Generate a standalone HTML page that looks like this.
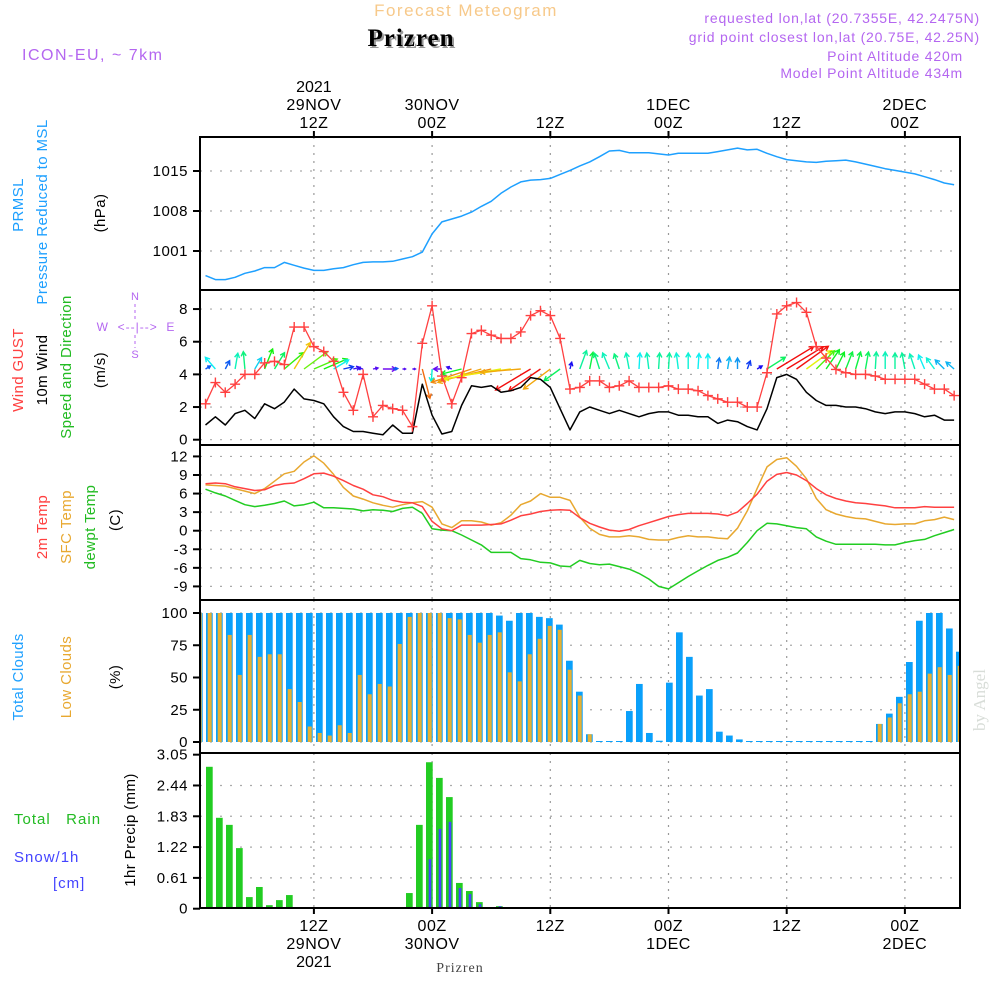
<!DOCTYPE html>
<html><head><meta charset="utf-8"><style>
html,body{margin:0;padding:0;background:#fff;}
svg{display:block;font-family:"Liberation Sans",sans-serif;}
</style></head><body>
<svg id="chart" width="1000" height="1000" viewBox="0 0 1000 1000" xmlns="http://www.w3.org/2000/svg"></svg>
<script>
// ---------- DATA ----------
const timeTickHours = [12, 24, 36, 48, 60, 72];
const timeTickTop1 = ["29NOV","30NOV","","1DEC","","2DEC"];
const timeTickTop2 = ["12Z","00Z","12Z","00Z","12Z","00Z"];
const pressureTicks = [1015, 1008, 1001];
const pressure = [996.7,996.0,996.0,996.4,997.1,997.5,998.1,998.1,999.0,998.5,998.0,997.6,997.6,997.9,998.1,998.6,999.0,999.1,999.1,999.2,999.6,1000.0,1000.8,1004.0,1006.1,1006.6,1007.1,1007.8,1008.8,1009.7,1011.1,1012.2,1013.1,1013.4,1013.5,1013.7,1014.4,1015.1,1015.9,1016.6,1017.5,1018.5,1018.6,1018.2,1018.2,1018.2,1018.0,1017.8,1018.1,1018.1,1018.1,1018.1,1018.4,1018.7,1019.0,1018.7,1018.8,1018.1,1017.5,1017.0,1016.8,1016.6,1016.5,1016.7,1016.8,1016.9,1016.6,1016.2,1015.8,1015.4,1015.1,1014.8,1014.5,1014.0,1013.5,1012.9,1012.6];
const windTicks = [8, 6, 4, 2, 0];
const windGust = [2.2,3.5,2.9,3.4,4.0,4.0,4.7,4.8,4.6,6.9,6.9,5.7,5.4,4.8,2.9,1.8,4.0,1.4,2.1,1.9,1.8,0.8,5.9,8.2,3.9,2.2,3.8,6.5,6.7,6.4,6.2,6.2,6.6,7.6,7.9,7.6,6.2,3.1,3.2,3.6,3.6,3.2,3.3,3.6,3.2,3.2,3.2,3.3,3.1,3.1,3.0,2.7,2.5,2.3,2.3,2.0,2.0,4.1,7.7,8.2,8.4,7.8,5.7,5.0,4.3,4.1,4.0,4.0,3.9,3.7,3.7,3.7,3.7,3.4,3.1,3.1,2.7];
const windSpeed = [0.9,1.4,0.9,1.6,1.8,1.3,2.2,1.9,2.3,3.1,2.5,2.4,2.2,1.4,0.8,0.5,0.5,0.4,0.3,0.9,0.4,0.4,3.4,1.5,0.35,0.5,2.1,3.3,3.2,3.3,2.9,3.0,3.2,3.8,3.7,3.2,1.9,0.6,1.7,2.0,1.8,1.6,1.8,1.6,1.4,1.6,1.7,1.7,1.5,1.5,1.4,1.4,1.0,1.2,1.1,0.8,0.6,1.9,3.8,4.0,3.7,2.9,2.4,2.1,2.1,2.0,2.0,1.9,1.7,1.6,1.7,1.7,1.6,1.4,1.5,1.2,1.2];
const windU = [0.5,-1.0,0.43,0.27,-0.17,0.67,0.8,1.0,1.93,1.6,2.33,2.33,2.33,1.5,1.0,0.67,-0.5,0.5,1.33,0.5,0.3,0.3,0.77,-0.07,-0.83,-0.5,-2.0,-4.0,-4.33,-5.0,-5.67,-5.0,-4.0,-3.5,-3.17,-2.67,-1.6,0.17,0.67,0.33,-0.5,-0.67,-0.5,-0.3,0.1,-0.2,0.1,0.1,-0.2,0.0,0.1,0.0,0.15,0.2,0.0,0.3,0.5,1.83,3.67,3.67,3.17,2.5,1.83,1.33,0.83,0.67,0.5,0.3,0.1,0.0,0.0,-0.3,-0.5,-0.6,-0.8,-0.9,-0.8];
const windV = [0.3,1.17,0.83,1.57,1.73,1.13,2.0,1.63,1.63,2.63,1.73,1.0,1.0,0.9,0.23,0.17,0.1,0.1,0.0,0.05,0.0,0.0,-2.93,-1.27,0.0,0.2,-0.5,-1.33,-1.33,-1.17,-1.0,-0.67,-0.33,-2.1,-2.17,-2.0,-1.17,0.67,1.83,1.67,1.57,1.6,1.5,1.6,1.6,1.6,1.6,1.6,1.6,1.6,1.55,1.5,1.1,1.2,1.1,0.8,0.3,1.17,2.23,2.23,2.27,1.83,1.83,1.93,1.67,1.7,1.7,1.7,1.7,1.7,1.6,1.6,1.5,1.4,1.1,0.9,0.7];
const tempTicks = [12, 9, 6, 3, 0, -3, -6, -9];
const temp2m = [7.6,7.7,7.6,7.1,6.8,6.5,6.6,7.3,7.6,7.7,8.4,9.2,9.3,8.8,8.1,7.3,6.7,5.8,5.5,4.9,4.6,4.5,3.9,1.5,0.3,0.0,0.9,0.9,0.9,1.0,1.1,1.7,2.4,2.7,3.1,3.3,3.4,3.3,2.1,1.2,0.6,0.1,-0.1,0.2,0.8,1.3,1.8,2.3,2.6,2.8,2.8,2.8,2.7,2.4,3.0,4.4,5.9,8.0,9.1,9.4,9.0,8.1,6.8,5.8,5.2,4.8,4.5,4.4,4.2,4.0,3.7,3.7,3.7,3.9,3.8,3.8,3.8];
const tempSfc = [7.4,7.3,7.2,6.8,6.4,6.0,6.8,8.0,9.2,9.6,11.1,12.1,10.9,9.1,7.0,5.6,5.1,4.5,4.1,3.8,4.2,4.5,4.7,3.8,1.1,0.5,1.6,1.6,1.4,0.9,1.3,2.5,4.2,4.8,6.0,5.4,5.4,4.9,2.2,0.4,-0.6,-1.0,-1.0,-0.8,-1.0,-1.4,-1.5,-1.5,-1.1,-0.8,-1.0,-1.0,-1.2,-1.3,0.4,3.2,6.8,10.3,11.5,11.8,10.4,8.4,5.2,3.4,2.7,2.3,2.0,1.9,1.5,1.1,1.0,1.1,1.1,1.6,1.8,2.2,1.8];
const tempDew = [6.7,6.1,5.6,4.9,4.2,3.9,4.1,4.4,4.8,4.0,4.2,4.6,3.7,3.7,3.6,3.5,3.2,3.4,3.3,3.1,3.6,3.8,2.8,0.3,0.1,0.0,-0.7,-1.5,-2.3,-3.5,-3.5,-3.5,-4.5,-4.7,-5.1,-5.2,-5.7,-5.8,-4.8,-5.3,-5.5,-5.4,-5.8,-6.2,-6.9,-7.8,-9.0,-9.4,-8.4,-7.4,-6.5,-5.6,-4.8,-4.3,-3.6,-1.9,0.0,1.2,1.1,0.8,0.5,0.3,-1.0,-1.7,-2.2,-2.2,-2.2,-2.2,-2.2,-2.3,-2.3,-1.9,-1.6,-1.4,-0.8,-0.3,0.2];
const cloudTicks = [100, 75, 50, 25, 0];
const totalClouds = [100,100,100,100,100,100,100,100,100,100,100,100,100,100,100,100,100,100,100,100,100,100,100,100,100,100,100,100,100,100,98,94,100,100,97,96,91,63,39,6,0,0,0,24,45,7,1,46,85,66,36,41,8,5,2,0,0,0,0,0,0,0,0,0,0,0,0,0,14,22,35,62,94,100,100,88,70];
const lowClouds = [100,100,100,83,52,83,66,68,68,41,31,12,7,5,13,7,52,37,45,43,76,97,100,100,100,96,95,83,77,83,85,54,47,68,80,90,87,56,36,6,0,0,0,0,0,0,0,0,0,0,0,0,0,0,0,0,0,0,0,0,0,0,0,0,0,0,0,0,14,19,30,37,39,53,58,52,59];
const precipTicks = ["3.05","2.44","1.83","1.22","0.61","0"];
const precipTickVals = [3.05,2.44,1.83,1.22,0.61,0];
const totalRain = [0,2.81,1.80,1.66,1.20,0.23,0.43,0.07,0.17,0.27,0,0,0,0,0,0,0,0,0,0,0,0.31,1.66,2.90,2.59,2.21,0.51,0.35,0.13,0.03,0.05];
const snow = [0,0,0,0,0,0,0,0,0,0,0,0,0,0,0,0,0,0,0,0,0,0,0,0.98,1.58,1.72,0.41,0.29,0.09,0.03,0.05,0.03];

// ---------- AXES ----------
const X0 = 195.7, XH = 9.85, PL = 200, PR = 960;
const xOf = h => X0 + XH * h;
const xBar = s => 199.3 + 10 * s;
const yP = p => 171 - (p - 1015) * 40 / 7;
const yW = v => 439.7 - v * 16.33;
const yT = t => 530.7 - t * 6.19;
const yC = c => 742 - c * 1.29;
const yR = r => 908.7 - r * 50.5;
const panels = [[137,290],[290,445],[445,600],[600,753],[753,908]];

const svg = document.getElementById('chart');
const NS = 'http://www.w3.org/2000/svg';
function mk(tag, attrs, parent) {
  const e = document.createElementNS(NS, tag);
  for (const k in attrs) e.setAttribute(k, attrs[k]);
  (parent || svg).appendChild(e);
  return e;
}
function txt(str, x, y, size, fill, anchor, parent, extra) {
  const t = mk('text', Object.assign({x: x, y: y, 'font-size': size, fill: fill, 'text-anchor': anchor || 'middle'}, extra || {}), parent);
  t.textContent = str;
  return t;
}
const defs = mk('defs', {});
panels.forEach((p, i) => {
  const cp = mk('clipPath', {id: 'clip' + i}, defs);
  mk('rect', {x: PL, y: p[0], width: PR - PL, height: p[1] - p[0]}, cp);
});

// header
let t;
t = txt('Forecast Meteogram', 466, 16, 17, '#f7c98a', 'middle', null, {'letter-spacing': '1.5'});


t = txt('Prizren', 413, 48, 25, '#999', 'middle', null, {'font-family': '"Liberation Serif",serif', 'font-weight': 'bold', 'letter-spacing': '1'});


t = txt('Prizren', 411, 46, 25, '#000', 'middle', null, {'font-family': '"Liberation Serif",serif', 'font-weight': 'bold', 'letter-spacing': '1'});


t = txt('ICON-EU, ~ 7km', 22, 60, 16, '#b466f0', 'start', null, {'letter-spacing': '1.5'});


const infoLines = [['requested lon,lat (20.7355E, 42.2475N)', 980, 23], ['grid point closest lon,lat (20.75E, 42.25N)', 980, 42], ['Point Altitude 420m', 963, 61], ['Model Point Altitude 434m', 963, 78]];
infoLines.forEach(l => {
  const e = txt(l[0], l[1], l[2], 14, '#b466f0', 'end', null, {'letter-spacing': '0.8'});
  
  
});

// grids and frames
panels.forEach((p, i) => {
  timeTickHours.forEach(h => {
    const g = mk('line', {x1: xOf(h), x2: xOf(h), y1: p[0], y2: p[1], stroke: '#999', 'stroke-width': 1.2, 'stroke-dasharray': '2,6'});
    
    
  });
});
function hgrid(vals, yf, pi, labels) {
  vals.forEach((v, i) => {
    const y = yf(v);
    if (y > panels[pi][0] + 2 && y < panels[pi][1] - 2) {
      const g = mk('line', {x1: PL, x2: PR, y1: y, y2: y, stroke: '#aaa', 'stroke-width': 1.2, 'stroke-dasharray': '2,8'});
      
      
    }
    const tk = mk('line', {x1: 193, x2: PL, y1: y, y2: y, stroke: '#000', 'stroke-width': 2});
    
    
    const lb = txt(labels ? labels[i] : String(v), 188, y + 5, 15, '#000', 'end', null, {'letter-spacing': '0.5'});
    
    
  });
}
hgrid(pressureTicks, yP, 0);
hgrid(windTicks, yW, 1);
hgrid(tempTicks, yT, 2);
hgrid(cloudTicks, yC, 3);
hgrid(precipTickVals, yR, 4, precipTicks);

function linePath(arr, yf, pi, color, name, w) {
  let d = '';
  arr.forEach((v, i) => { d += (i ? 'L' : 'M') + xOf(i + 1).toFixed(1) + ',' + yf(v).toFixed(1); });
  const e = mk('path', {d: d, fill: 'none', stroke: color, 'stroke-width': w || 1.5, 'clip-path': 'url(#clip' + pi + ')', 'stroke-linejoin': 'round'});
  
  
  return e;
}
linePath(pressure, yP, 0, '#1ea0ff', 'pressure-line');

// wind arrows
const arrowG = mk('g', {'clip-path': 'url(#clip1)'});


windU.forEach((u, i) => {
  const v = windV[i];
  const sp = windSpeed[i];
  const hue = Math.max(0, Math.min(275, 290 - sp * 78));
  const col = 'hsl(' + hue + ',90%,50%)';
  const x1 = xOf(i + 1), y1 = 369;
  const x2 = x1 + u * 10, y2 = y1 - v * 10;
  const len = Math.hypot(x2 - x1, y2 - y1) || 1;
  const ux = (x2 - x1) / len, uy = (y2 - y1) / len;
  const hl = Math.min(5, len * 0.6);
  const d = 'M' + x1.toFixed(1) + ',' + y1 + 'L' + x2.toFixed(1) + ',' + y2.toFixed(1) +
    'M' + (x2 - hl * (ux * 0.87 - uy * 0.5)).toFixed(1) + ',' + (y2 - hl * (uy * 0.87 + ux * 0.5)).toFixed(1) + 'L' + x2.toFixed(1) + ',' + y2.toFixed(1) +
    'L' + (x2 - hl * (ux * 0.87 + uy * 0.5)).toFixed(1) + ',' + (y2 - hl * (uy * 0.87 - ux * 0.5)).toFixed(1);
  const a = mk('path', {d: d, fill: 'none', stroke: col, 'stroke-width': 1.4}, arrowG);
  
  
});
linePath(windSpeed, yW, 1, '#000', 'wind-speed-line');
linePath(windGust, yW, 1, '#ff4040', 'wind-gust-line', 1.3);
const gustG = mk('g', {'clip-path': 'url(#clip1)'});


windGust.forEach((v, i) => {
  const x = xOf(i + 1), y = yW(v);
  const m = mk('path', {d: 'M' + (x - 5) + ',' + y + 'h10M' + x + ',' + (y - 5) + 'v10', stroke: '#ff4040', 'stroke-width': 1.4}, gustG);
  
  
});

// temperatures
linePath(tempDew, yT, 2, '#22cc22', 'dewpoint-line');
linePath(tempSfc, yT, 2, '#e8a830', 'sfc-temp-line');
linePath(temp2m, yT, 2, '#ff4040', 'temp-2m-line');

// clouds
const cloudG = mk('g', {'clip-path': 'url(#clip3)'});
totalClouds.forEach((c, s) => {
  const h = Math.max(1, c * 1.29);
  const r = mk('rect', {x: xBar(s) - 3.3, y: 742 - h, width: 6.7, height: h, fill: '#0aa0fa'}, cloudG);
  
  
});
lowClouds.forEach((c, s) => {
  if (c <= 0) return;
  const h = c * 1.29;
  const r = mk('rect', {x: xBar(s) - 1.6, y: 742 - h, width: 4, height: h, fill: '#e8b030'}, cloudG);
  
  
});

// precipitation
const precG = mk('g', {'clip-path': 'url(#clip4)'});
totalRain.forEach((r, s) => {
  if (r <= 0) return;
  const e = mk('rect', {x: xBar(s) - 3.3, y: yR(r), width: 6.7, height: yR(0) - yR(r), fill: '#22cc22'}, precG);
  
  
});
snow.forEach((r, s) => {
  if (r <= 0) return;
  const e = mk('rect', {x: xBar(s) - 0.6, y: yR(r), width: 2.6, height: yR(0) - yR(r), fill: '#4444ff'}, precG);
  
  
});

// frames
panels.forEach((p, i) => {
  const f = mk('rect', {x: PL, y: p[0], width: PR - PL, height: p[1] - p[0], fill: 'none', stroke: '#000', 'stroke-width': 2});
  
  
});
timeTickHours.forEach(h => {
  mk('line', {x1: xOf(h), x2: xOf(h), y1: 137, y2: 131, stroke: '#000', 'stroke-width': 2});
  mk('line', {x1: xOf(h), x2: xOf(h), y1: 908, y2: 914, stroke: '#000', 'stroke-width': 2});
});

// time labels
timeTickHours.forEach((h, i) => {
  const x = xOf(h);
  if (timeTickTop1[i]) {
    const a = txt(timeTickTop1[i], x, 110, 16, '#000', 'middle', null, {'letter-spacing': '0.5'});
    
    
    const b = txt(timeTickTop1[i], x, 949, 16, '#000', 'middle', null, {'letter-spacing': '0.5'});
    
    
  }
  const c = txt(timeTickTop2[i], x, 128, 16, '#000', 'middle', null, {'letter-spacing': '0.5'});
  
  
  const d = txt(timeTickTop2[i], x, 931, 16, '#000', 'middle', null, {'letter-spacing': '0.5'});
  
  
});
t = txt('2021', xOf(12), 92, 16, '#000');


t = txt('2021', xOf(12), 967, 16, '#000');


t = txt('Prizren', 460, 972, 14, '#444', 'middle', null, {'font-family': '"Liberation Serif",serif', 'letter-spacing': '1'});



// left rotated labels
function vlab(str, x, y, color, name) {
  const e = txt(str, x, y, 15, color, 'middle', null, {transform: 'rotate(-90 ' + x + ' ' + y + ')', 'letter-spacing': '0.4'});
  
  
}
vlab('PRMSL', 23, 205, '#1ea0ff', 'prmsl-label');
vlab('Pressure Reduced to MSL', 47, 212, '#1ea0ff', 'pressure-label');
vlab('(hPa)', 105, 213, '#000', 'pressure-unit');
vlab('Wind GUST', 23, 370, '#ff4040', 'gust-label');
vlab('10m Wind', 47, 370, '#000', 'wind-label');
vlab('Speed and Direction', 71, 367, '#22bb22', 'wind-direction-label');
vlab('(m/s)', 105, 370, '#000', 'wind-unit');
vlab('2m Temp', 47, 527, '#ff4040', 'temp-2m-label');
vlab('SFC Temp', 71, 527, '#e8a830', 'sfc-temp-label');
vlab('dewpt Temp', 95, 527, '#22bb22', 'dewpoint-label');
vlab('(C)', 120, 520, '#000', 'temp-unit');
vlab('Total Clouds', 23, 677, '#1ea0ff', 'total-clouds-label');
vlab('Low Clouds', 71, 677, '#e8a830', 'low-clouds-label');
vlab('(%)', 120, 677, '#000', 'clouds-unit');
vlab('1hr Precip (mm)', 135, 830, '#000', 'precip-unit');
t = txt('Total   Rain', 14, 824, 15, '#22bb22', 'start', null, {style: 'white-space:pre', 'letter-spacing': '1'});


t = txt('Snow/1h', 14, 862, 15, '#4444ff', 'start', null, {'letter-spacing': '1'});


t = txt('[cm]', 53, 888, 15, '#4444ff', 'start', null, {'letter-spacing': '1'});


// compass
const comp = mk('g', {fill: '#b466f0'});


txt('N', 135, 300, 11, '#b466f0', 'middle', comp);
txt('W  <--|-->  E', 136, 331, 12, '#b466f0', 'middle', comp, {style: 'white-space:pre', 'letter-spacing': '1'});
txt('S', 135, 358, 11, '#b466f0', 'middle', comp);
mk('line', {x1: 135, x2: 135, y1: 304, y2: 320, stroke: '#b466f0', 'stroke-width': 1, 'stroke-dasharray': '3,3'}, comp);
mk('line', {x1: 135, x2: 135, y1: 335, y2: 348, stroke: '#b466f0', 'stroke-width': 1, 'stroke-dasharray': '3,3'}, comp);
// watermark
t = txt('by Angel', 985, 700, 17, '#d8ddd8', 'middle', null, {transform: 'rotate(-90 985 700)', 'font-family': '"Liberation Serif",serif'});


</script>
</body></html>
